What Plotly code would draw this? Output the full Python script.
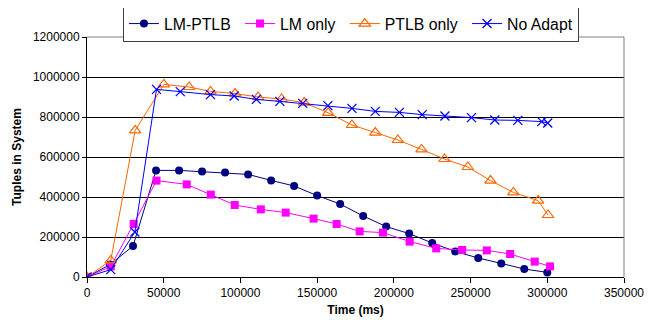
import plotly.graph_objects as go

# LM-PTLB
lmptlb_x = [0, 15000, 30000, 45000, 60000, 75000, 90000, 105000, 120000, 135000, 150000,
            165000, 180000, 195000, 210000, 225000, 240000, 255000, 270000, 285000, 300000]
lmptlb_y = [0, 62000, 155000, 533000, 533000, 527000, 522000, 513000, 483000, 455000, 407000,
            365000, 305000, 252000, 217000, 170000, 128000, 95000, 68000, 40000, 23000]

# LM only
lm_x = [0, 15500, 30400, 45300, 65000, 80700, 96300, 113300, 129500, 147700, 162700,
        177700, 192900, 210300, 227600, 244500, 260600, 275800, 291800, 301800]
lm_y = [0, 53000, 265000, 482000, 463000, 412000, 360000, 338000, 322000, 292000, 265000,
        228000, 222000, 177000, 143000, 135000, 133000, 115000, 77000, 53000]

# PTLB only
ptlb_x = [0, 15500, 31400, 50100, 66600, 80500, 96500, 111500, 126800, 141500, 157200,
          172700, 187900, 202600, 218000, 233000, 248200, 263000, 277900, 294000, 300500]
ptlb_y = [0, 83000, 733000, 963000, 950000, 928000, 917000, 900000, 890000, 872000, 821000,
          760000, 722000, 685000, 638000, 590000, 550000, 482000, 423000, 382000, 310000]

# No Adapt
noad_x = [0, 15500, 31200, 45300, 60800, 80500, 95900, 110400, 125700, 140600, 157000,
          172700, 187900, 203600, 218500, 233300, 250600, 265800, 280800, 296400, 300300]
noad_y = [0, 37000, 225000, 938000, 927000, 912000, 905000, 888000, 878000, 868000, 857000,
          843000, 828000, 823000, 812000, 805000, 797000, 785000, 783000, 777000, 770000]

x_ticks = [0, 50000, 100000, 150000, 200000, 250000, 300000, 350000]
y_ticks = [0, 200000, 400000, 600000, 800000, 1000000, 1200000]

NB = "\u00a0"
fig = go.Figure()
fig.add_trace(go.Scatter(x=lmptlb_x, y=lmptlb_y, name="LM-PTLB" + NB, mode="lines+markers",
                         line=dict(color="#000080", width=1),
                         marker=dict(symbol="circle", size=8, color="#000080")))
fig.add_trace(go.Scatter(x=lm_x, y=lm_y, name="LM only" + NB, mode="lines+markers",
                         line=dict(color="#FF00FF", width=1),
                         marker=dict(symbol="square", size=8, color="#FF00FF")))
fig.add_trace(go.Scatter(x=ptlb_x, y=ptlb_y, name="PTLB only" + NB, mode="lines+markers",
                         line=dict(color="#FF6600", width=1),
                         marker=dict(symbol="triangle-up-open", size=10, color="#FF6600",
                                     line=dict(width=1.2))))
fig.add_trace(go.Scatter(x=noad_x, y=noad_y, name="No Adapt", mode="lines+markers",
                         line=dict(color="#0000FF", width=1),
                         marker=dict(symbol="x-thin-open", size=9, color="#0000FF",
                                     line=dict(width=1.3, color="#0000FF"))))

font = "Liberation Sans, Arial, sans-serif"
fig.update_layout(
    width=656, height=320,
    margin=dict(l=79, r=40, t=29, b=51, autoexpand=False),
    paper_bgcolor="white", plot_bgcolor="white",
    font=dict(family=font, size=12, color="black"),
    showlegend=True,
    legend=dict(orientation="h", x=0.067, y=1.13, xanchor="left", yanchor="top",
                bordercolor="#404040", borderwidth=1, bgcolor="white",
                font=dict(size=15.8, family=font), tracegroupgap=0,
                itemwidth=30),
    xaxis=dict(range=[0, 350000], tickvals=x_ticks, ticktext=[str(v) for v in x_ticks],
               showgrid=False, zeroline=False, showline=True, linecolor="black", linewidth=1,
               ticks="outside", ticklen=5, tickcolor="black", automargin=False,
               title=dict(text="<b>Time (ms)</b>", font=dict(size=12), standoff=6),
               tickfont=dict(size=12)),
    yaxis=dict(range=[0, 1200000], tickvals=y_ticks, ticktext=[str(v) for v in y_ticks],
               showgrid=True, gridcolor="black", gridwidth=1, zeroline=False,
               showline=True, linecolor="black", linewidth=1, automargin=False,
               ticks="outside", ticklen=4, tickcolor="black",
               title=dict(text="<b>Tuples in System</b>", font=dict(size=12), standoff=8),
               tickfont=dict(size=12)),
    shapes=[dict(type="line", xref="paper", yref="paper", x0=1, x1=1, y0=0, y1=1,
                 line=dict(color="#808080", width=1)),
            dict(type="line", xref="paper", yref="paper", x0=0, x1=1, y0=1, y1=1,
                 line=dict(color="#808080", width=1))],
)

fig.write_html("out.html")
